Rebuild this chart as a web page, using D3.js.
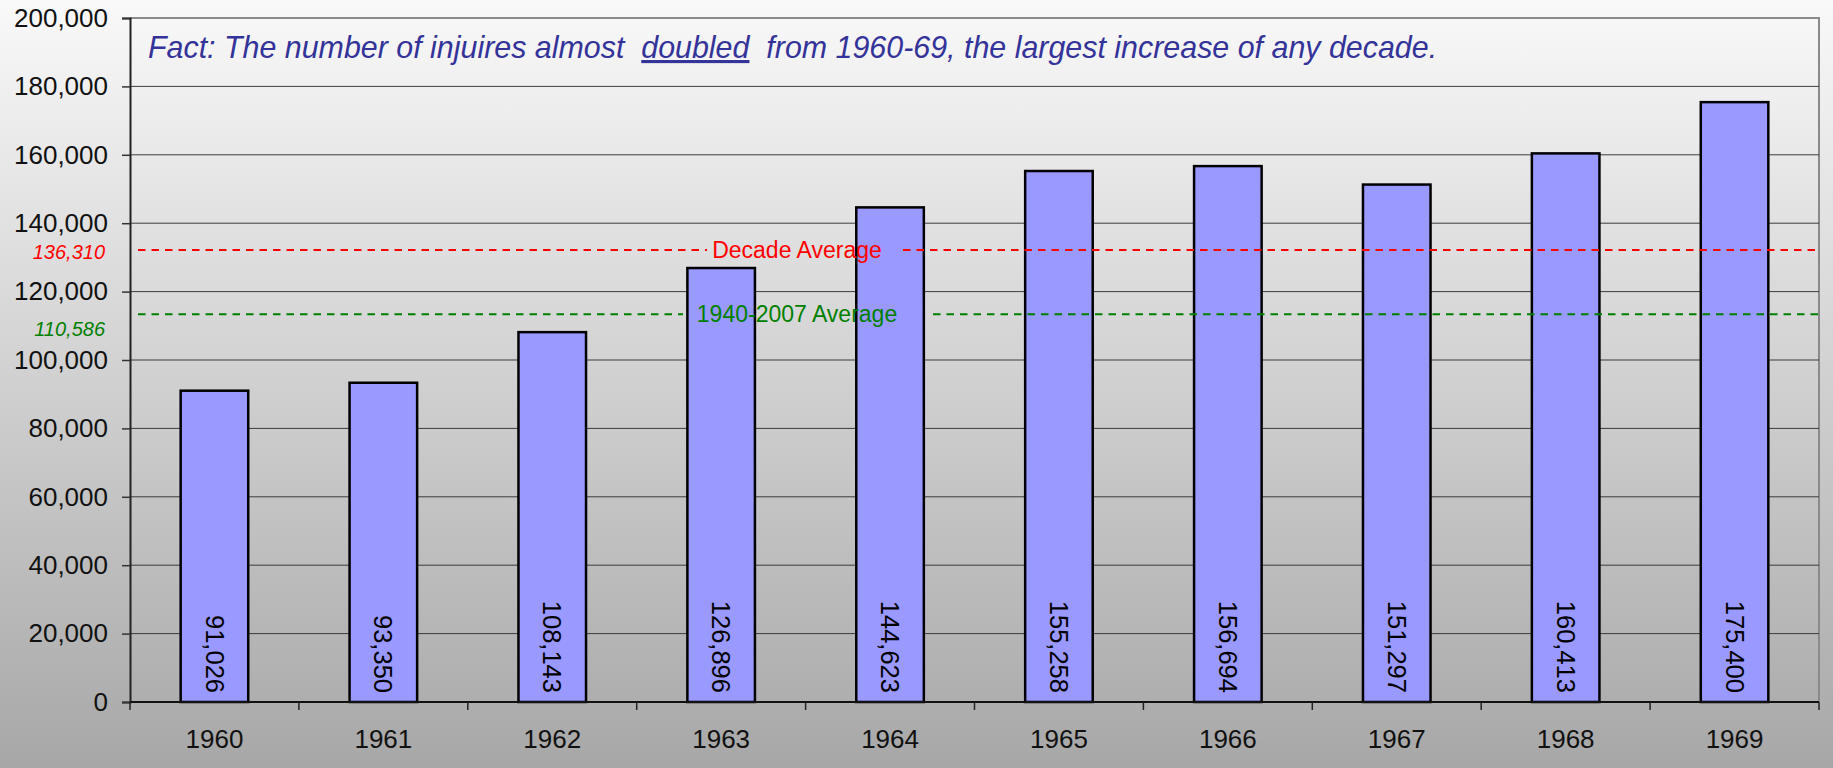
<!DOCTYPE html>
<html>
<head>
<meta charset="utf-8">
<script src="https://cdn.jsdelivr.net/npm/d3@7"></script>
<style>
  html, body { margin: 0; padding: 0; }
  body { width: 1833px; height: 768px; overflow: hidden; }
  svg { display: block; font-family: "Liberation Sans", Arial, Helvetica, sans-serif; }
</style>
</head>
<body>
<svg id="chart" width="1833" height="768"></svg>
<script>
// ---- data ----
const years = ["1960", "1961", "1962", "1963", "1964", "1965", "1966", "1967", "1968", "1969"];
const injuries = [91026, 93350, 108143, 126896, 144623, 155258, 156694, 151297, 160413, 175400];
const yTicks = [0, 20000, 40000, 60000, 80000, 100000, 120000, 140000, 160000, 180000, 200000];
const avgNames = ["Decade Average", "1940-2007 Average"];
const avgValues = [136310, 110586];          // labelled values
const avgLineLevels = [132200, 113400];       // where the dashed lines sit in the picture
const avgColors = ["#ff0000", "#008000"];
const titlePre = "Fact: The number of injuires almost ";
const titleEm = "doubled";
const titlePost = " from 1960-69, the largest increase of any decade.";

// ---- layout ----
const W = 1833, H = 768;
const L = 130, R = 1819, T = 18, B = 702;
const svg = d3.select("#chart");

const defs = svg.append("defs");
const grad = defs.append("linearGradient").attr("id", "bg").attr("x1", 0).attr("y1", 0).attr("x2", 0).attr("y2", 1);
grad.append("stop").attr("offset", "0%").attr("stop-color", "#f9f9f9");
grad.append("stop").attr("offset", "100%").attr("stop-color", "#a7a7a7");
svg.append("rect").attr("width", W).attr("height", H).attr("fill", "url(#bg)");

const x = d3.scaleBand().domain(years).range([L, R]).paddingInner(0.6).paddingOuter(0.3);
const xb = d3.scaleBand().domain(years).range([L, R]).padding(0);
const y = d3.scaleLinear().domain([0, 200000]).range([B, T]);

// plot border (top/right grey)
svg.append("path")
  .attr("d", `M${L},${T}H${R}V${B}`)
  .attr("fill", "none").attr("stroke", "#8a8a8a").attr("stroke-width", 2);

// gridlines
svg.append("g").selectAll("line").data(yTicks.filter(d => d > 0 && d < 200000)).join("line")
  .attr("x1", L).attr("x2", R).attr("y1", d => y(d)).attr("y2", d => y(d))
  .attr("stroke", "#3c3c3c").attr("stroke-width", 1);

// Y axis
const yAxis = d3.axisLeft(y).tickValues(yTicks).tickSize(8).tickPadding(14).tickFormat(d3.format(","));
const gy = svg.append("g").attr("transform", `translate(${L},0)`).call(yAxis);
gy.select(".domain").attr("stroke", "#222").attr("stroke-width", 2);
gy.selectAll(".tick line").attr("stroke", "#333").attr("stroke-width", 1.5);
gy.selectAll(".tick text").attr("font-size", 26).attr("fill", "#111")
  .attr("font-family", "'Liberation Sans', Arial, sans-serif");

// bars
svg.append("g").selectAll("rect").data(years).join("rect")
  .attr("x", d => x(d))
  .attr("y", (d, i) => y(injuries[i]))
  .attr("width", x.bandwidth())
  .attr("height", (d, i) => y(0) - y(injuries[i]))
  .attr("fill", "#9999ff").attr("stroke", "#000").attr("stroke-width", 2.5);

// bar value labels (rotated)
svg.append("g").selectAll("text").data(years).join("text")
  .attr("transform", d => `translate(${x(d) + x.bandwidth() / 2},${y(0) - 9}) rotate(90)`)
  .attr("text-anchor", "end").attr("dy", "0.35em")
  .attr("font-size", 25.5).attr("fill", "#000")
  .text((d, i) => d3.format(",")(injuries[i]));

// X axis
const gx = svg.append("g").attr("transform", `translate(0,${B})`);
gx.append("line").attr("x1", L).attr("x2", R).attr("y1", 0).attr("y2", 0)
  .attr("stroke", "#111").attr("stroke-width", 2);
const bounds = years.map(d => xb(d)).concat([R]);
gx.selectAll("line.tk").data(bounds).join("line").attr("class", "tk")
  .attr("x1", d => d).attr("x2", d => d).attr("y1", 0).attr("y2", 8)
  .attr("stroke", "#222").attr("stroke-width", 1.5);
gx.selectAll("text").data(years).join("text")
  .attr("x", d => x(d) + x.bandwidth() / 2).attr("y", 46)
  .attr("text-anchor", "middle").attr("font-size", 26).attr("fill", "#111")
  .text(d => d);

// average lines (split around their labels)
const labelCx = [797, 797];
const gaps = [[707, 903], [683, 933]];
avgNames.forEach((name, i) => {
  const yy = y(avgLineLevels[i]);
  const g = svg.append("g");
  [[L + 8, gaps[i][0]], [gaps[i][1], R]].forEach(seg => {
    g.append("line").attr("x1", seg[0]).attr("x2", seg[1]).attr("y1", yy).attr("y2", yy)
      .attr("stroke", avgColors[i]).attr("stroke-width", 2).attr("stroke-dasharray", "7.5,6");
  });
  g.append("text").attr("x", labelCx[i]).attr("y", yy).attr("dy", "0.36em")
    .attr("text-anchor", "middle").attr("font-size", 23).attr("fill", avgColors[i])
    .text(name);
  // value label at left of axis
  svg.append("text").attr("x", 105).attr("y", yy + (i === 0 ? 2 : 15)).attr("dy", "0.35em")
    .attr("text-anchor", "end").attr("font-size", 20).attr("font-style", "italic")
    .attr("fill", avgColors[i]).text(d3.format(",")(avgValues[i]));
});

// title
const tg = svg.append("g");
const tt = tg.append("text").attr("x", 0).attr("y", 0)
  .attr("font-size", 31).attr("font-style", "italic").attr("fill", "#333399")
  .attr("xml:space", "preserve").style("white-space", "pre");
tt.append("tspan").text(titlePre + " ");
tt.append("tspan").attr("text-decoration", "underline").style("text-decoration", "underline").text(titleEm);
tt.append("tspan").text(" " + titlePost);
const tw = tt.node().getComputedTextLength();
const sx = 1290 / tw;
tg.attr("transform", `translate(148,58) scale(${sx},1)`);
</script>
</body>
</html>
